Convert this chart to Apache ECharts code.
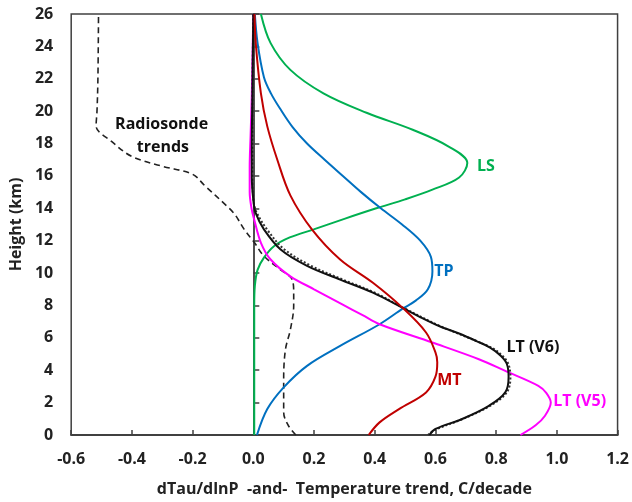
<!DOCTYPE html>
<html>
<head>
<meta charset="utf-8">
<script src="https://cdn.jsdelivr.net/npm/echarts@6/dist/echarts.min.js"></script>
<style>
  html, body { margin: 0; padding: 0; background: #fff; }
  #main { width: 632px; height: 502px; }
</style>
</head>
<body>
<div id="main"></div>
<script>
// curves as [trend or weight, height km]
var radiosonde = [[0.14,0],[0.115,0.6],[0.10,1.4],[0.10,3.5],[0.106,5.3],[0.122,6.5],[0.133,8.0],[0.133,8.8],[0.128,9.6],[0.09,10.2],[0.035,11.05],[0.003,11.9],[-0.03,12.7],[-0.06,13.6],[-0.085,14.1],[-0.16,15.4],[-0.20,16.1],[-0.30,16.6],[-0.40,17.2],[-0.465,18.1],[-0.518,19.1],[-0.515,20],[-0.512,22],[-0.51,26]];
var ls = [[0.003,0],[0.003,4],[0.003,8],[0.005,9.2],[0.014,10.2],[0.035,10.95],[0.068,11.66],[0.12,12.2],[0.199,12.7],[0.30,13.35],[0.405,14.0],[0.50,14.55],[0.59,15.15],[0.678,15.9],[0.705,16.8],[0.645,17.8],[0.525,18.85],[0.373,19.9],[0.231,21.1],[0.122,22.55],[0.057,24.2],[0.025,26]];
var tp = [[0.012,0],[0.046,1.6],[0.10,2.94],[0.177,4.27],[0.286,5.5],[0.416,6.84],[0.492,7.8],[0.535,8.3],[0.575,9.0],[0.59,10.1],[0.585,11.0],[0.55,12.0],[0.49,13.0],[0.42,14.0],[0.355,15.0],[0.295,16.0],[0.235,17.0],[0.177,18.0],[0.13,19.0],[0.09,20.1],[0.058,21.1],[0.035,22.1],[0.014,24.2],[0.005,26]];
var mt = [[0.38,0],[0.416,0.78],[0.48,1.6],[0.569,2.63],[0.60,3.6],[0.606,4.5],[0.60,5.1],[0.569,6.33],[0.492,7.85],[0.394,9.4],[0.286,10.84],[0.193,12.7],[0.122,14.8],[0.079,17.0],[0.046,19.06],[0.025,21.1],[0.008,24.2],[0.004,26]];
var ltV6 = [[0.58,0],[0.60,0.37],[0.688,0.99],[0.776,1.8],[0.83,2.63],[0.841,3.6],[0.835,4.4],[0.815,4.9],[0.78,5.4],[0.735,5.8],[0.68,6.25],[0.612,6.73],[0.548,7.3],[0.492,7.85],[0.394,8.79],[0.286,9.6],[0.177,10.45],[0.09,11.46],[0.035,12.7],[0.008,13.7],[0.0,14.5],[-0.005,16],[-0.005,18],[-0.003,21],[0,26]];
var ltV6dot = [[0.575,0],[0.60,0.33],[0.69,0.99],[0.78,1.8],[0.835,2.63],[0.847,3.6],[0.84,4.4],[0.82,4.9],[0.784,5.4],[0.615,6.73],[0.495,7.85],[0.40,8.79],[0.295,9.6],[0.19,10.45],[0.10,11.5],[0.045,12.7],[0.012,13.7],[0.002,14.3],[-0.003,16],[-0.003,20],[0,26]];
var ltV5 = [[0.88,0],[0.93,0.6],[0.961,1.19],[0.98,2.0],[0.965,2.6],[0.939,3.04],[0.83,3.96],[0.743,4.68],[0.59,5.71],[0.416,6.84],[0.36,7.4],[0.29,8.1],[0.2,9.0],[0.122,9.8],[0.057,10.84],[0.025,11.87],[0.003,13.3],[-0.006,14],[-0.012,15],[-0.012,16.5],[-0.009,18.5],[-0.005,21],[-0.002,24],[0,26]];

var xTicks = [-0.6, 1.2, 0.2];   // min, max, step
var yTicks = [0, 26, 2];

// text labels placed in data coordinates
var labelText  = ['LS', 'TP', 'LT (V6)', 'MT', 'LT (V5)', 'Radiosonde', 'trends'];
var labelPos   = [[0.737,16.6],[0.596,10.1],[0.834,5.4],[0.606,3.4],[0.988,2.05],[-0.302,19.2],[-0.298,17.75]];
var labelColor = ['#00B050','#0070C0','#111111','#C00000','#FF00FF','#111111','#111111'];
var labelAlign = ['left','left','left','left','left','center','center'];

var FONT = '"Open Sans", "DejaVu Sans", sans-serif';
var chart = echarts.init(document.getElementById('main'));

function line(name, data, color, width, type) {
  return {
    name: name, type: 'line', data: data, smooth: 0.35,
    showSymbol: false, silent: true,
    lineStyle: { color: color, width: width, type: type || 'solid' }
  };
}

chart.setOption({
  animation: false,
  grid: { left: 69, right: 12, top: 14, bottom: 66, show: true, borderColor: '#404040', borderWidth: 1.5 },
  xAxis: {
    type: 'value', min: xTicks[0], max: xTicks[1], interval: xTicks[2],
    name: 'dTau/dlnP  -and-  Temperature trend, C/decade',
    nameLocation: 'middle', nameGap: 46,
    nameTextStyle: { fontFamily: FONT, fontWeight: 'bold', fontSize: 16, color: '#222' },
    axisLine: { onZero: false, lineStyle: { color: '#404040', width: 2 } },
    axisTick: { inside: true, length: 5, lineStyle: { color: '#404040', width: 1.5 } },
    axisLabel: { margin: 16, fontFamily: FONT, fontWeight: 'bold', fontSize: 16, color: '#222',
      formatter: function (v) { return v.toFixed(1); } },
    splitLine: { show: false }
  },
  yAxis: [{
    type: 'value', min: yTicks[0], max: yTicks[1], interval: yTicks[2],
    position: 'left',
    name: 'Height (km)', nameLocation: 'middle', nameGap: 44,
    nameTextStyle: { fontFamily: FONT, fontWeight: 'bold', fontSize: 16, color: '#222' },
    axisLine: { show: true, lineStyle: { color: '#404040', width: 1.5 } },
    axisTick: { show: false },
    axisLabel: { margin: 18, fontFamily: FONT, fontWeight: 'bold', fontSize: 16, color: '#222' },
    splitLine: { show: false }
  }, {
    type: 'value', min: yTicks[0], max: yTicks[1], interval: yTicks[2],
    position: 'left',
    axisLine: { show: true, onZero: true, onZeroAxisIndex: 0, lineStyle: { color: '#505050', width: 2 } },
    axisTick: { show: true, inside: true, length: 6, lineStyle: { color: '#404040', width: 1.5 } },
    axisLabel: { show: false },
    splitLine: { show: false }
  }],
  series: [
    line('Radiosonde', radiosonde, '#222', 1.6, [6, 4]),
    line('LS', ls, '#00B050', 2),
    line('TP', tp, '#0070C0', 2),
    line('LT (V5)', ltV5, '#FF00FF', 2),
    line('LT (V6) dotted', ltV6dot, '#333', 2, 'dotted'),
    line('LT (V6)', ltV6, '#111', 2),
    line('MT', mt, '#C00000', 2)
  ]
});

var texts = labelText.map(function (t, i) {
  var p = chart.convertToPixel({ gridIndex: 0 }, labelPos[i]);
  return {
    type: 'text', x: p[0], y: p[1], silent: true,
    style: { text: t, fill: labelColor[i], font: 'bold 16px ' + FONT,
      align: labelAlign[i], verticalAlign: 'middle' }
  };
});
chart.setOption({ graphic: texts });
</script>
</body>
</html>
